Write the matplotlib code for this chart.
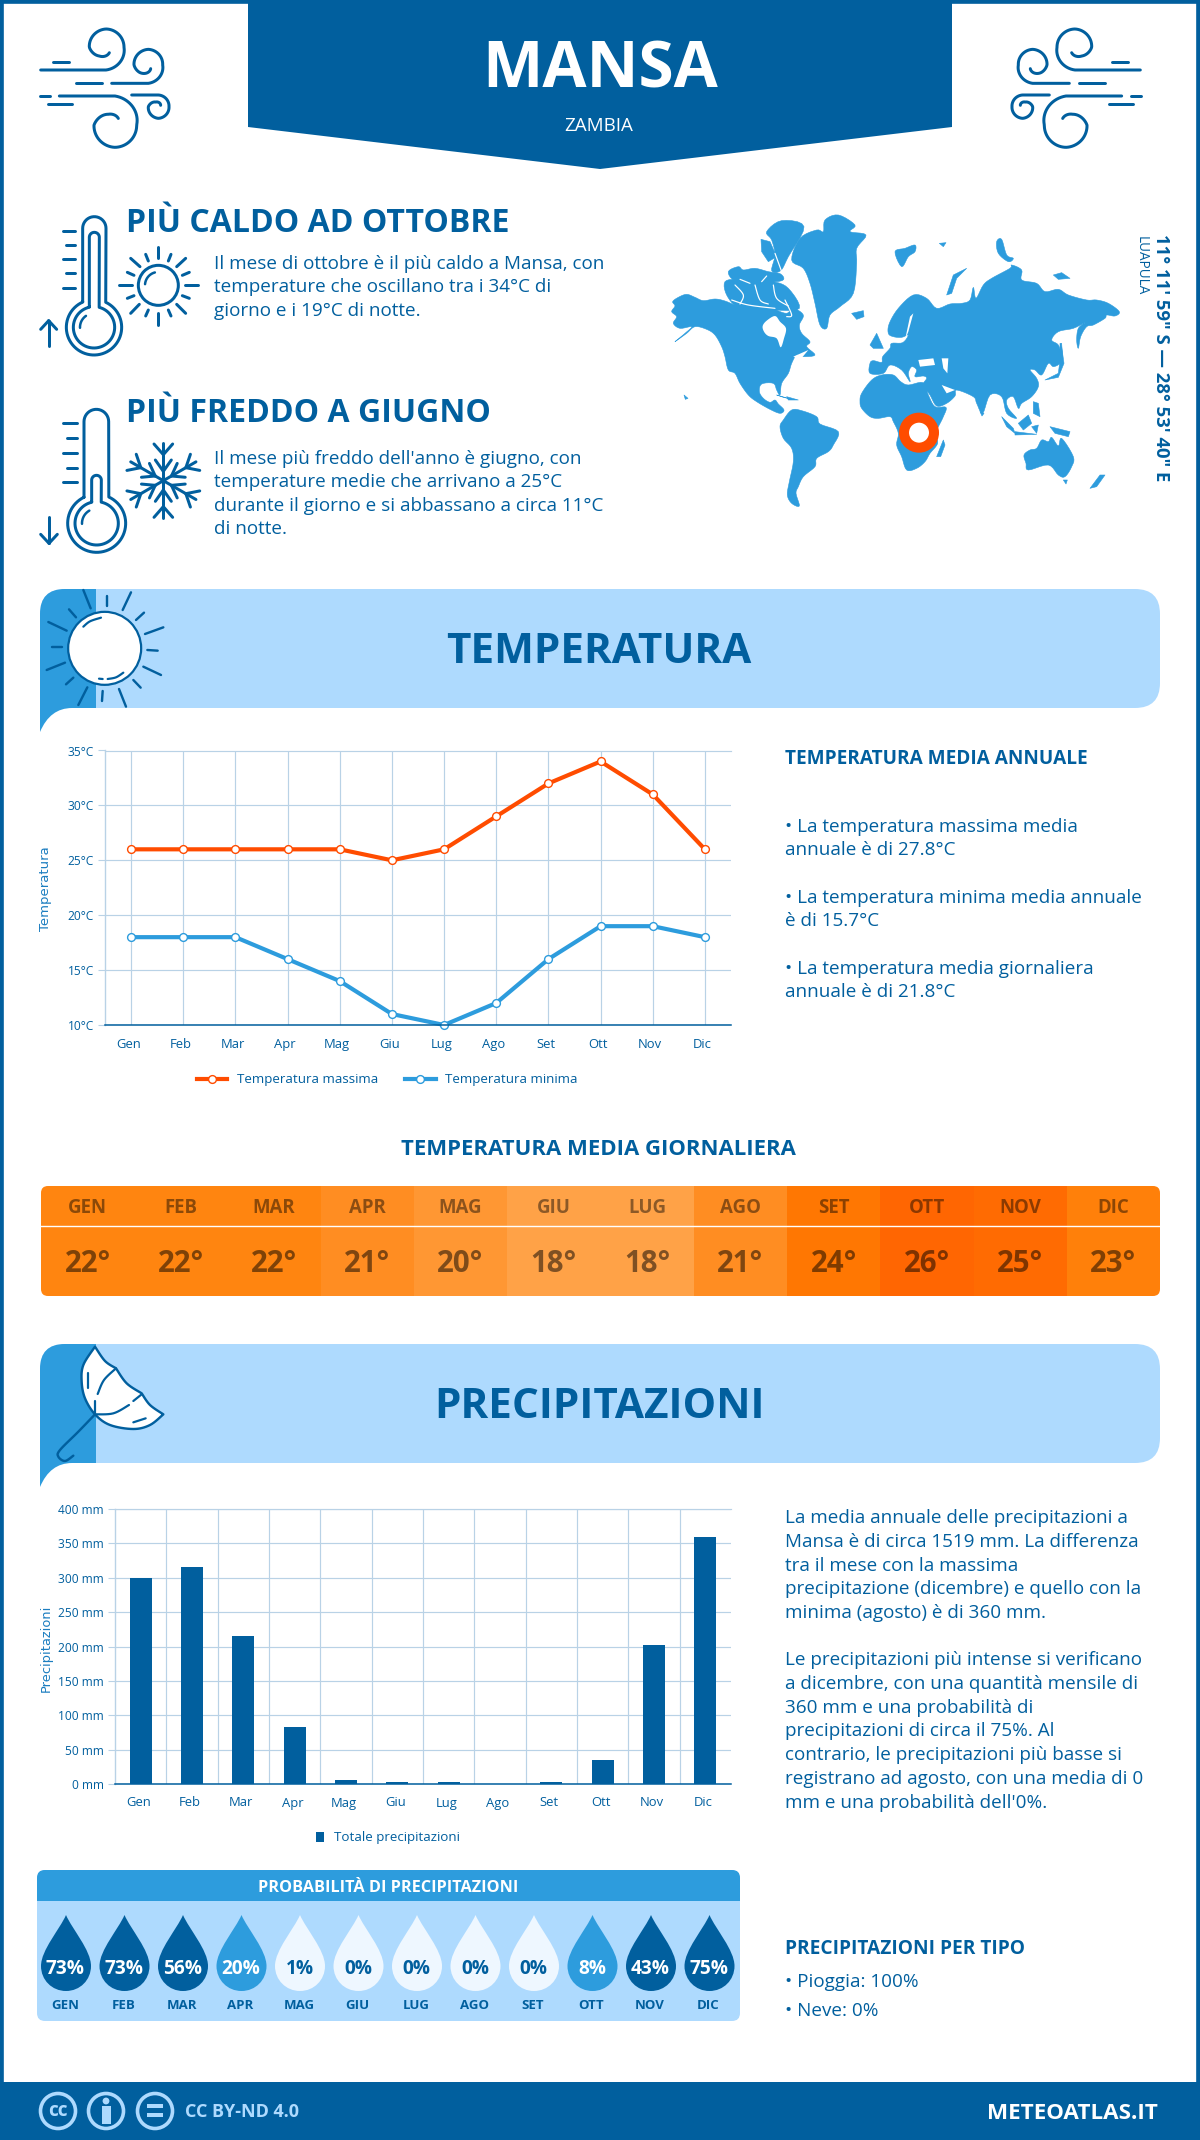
import numpy as np
import matplotlib
matplotlib.use("Agg")
import matplotlib.pyplot as plt
from matplotlib.path import Path
from matplotlib.patches import PathPatch, Rectangle, FancyBboxPatch, Polygon, Circle
from matplotlib.transforms import ScaledTranslation
from matplotlib.lines import Line2D

plt.rcParams['font.family'] = ['Open Sans', 'DejaVu Sans']

# ---------- data ----------
months = ['Gen', 'Feb', 'Mar', 'Apr', 'Mag', 'Giu', 'Lug', 'Ago', 'Set', 'Ott', 'Nov', 'Dic']
months_upper = ['GEN', 'FEB', 'MAR', 'APR', 'MAG', 'GIU', 'LUG', 'AGO', 'SET', 'OTT', 'NOV', 'DIC']
temp_max = [26, 26, 26, 26, 26, 25, 26, 29, 32, 34, 31, 26]
temp_min = [18, 18, 18, 16, 14, 11, 10, 12, 16, 19, 19, 18]
temp_mean = [22, 22, 22, 21, 20, 18, 18, 21, 24, 26, 25, 23]
temp_ticks = [10, 15, 20, 25, 30, 35]
rain_mm = [300, 316, 215, 83, 6, 3, 3, 0, 3, 35, 202, 360]
rain_ticks = [0, 50, 100, 150, 200, 250, 300, 350, 400]
rain_prob = [73, 73, 56, 20, 1, 0, 0, 0, 0, 8, 43, 75]

text_hot = ["Il mese di ottobre è il più caldo a Mansa, con",
            "temperature che oscillano tra i 34°C di",
            "giorno e i 19°C di notte."]
text_cold = ["Il mese più freddo dell'anno è giugno, con",
             "temperature medie che arrivano a 25°C",
             "durante il giorno e si abbassano a circa 11°C",
             "di notte."]
text_temp = [("• La temperatura massima media", 825), ("annuale è di 27.8°C", 848),
             ("• La temperatura minima media annuale", 896), ("è di 15.7°C", 919),
             ("• La temperatura media giornaliera", 967), ("annuale è di 21.8°C", 990)]
text_rain = [("La media annuale delle precipitazioni a", 1516),
             ("Mansa è di circa 1519 mm. La differenza", 1540),
             ("tra il mese con la massima", 1564),
             ("precipitazione (dicembre) e quello con la", 1587),
             ("minima (agosto) è di 360 mm.", 1611),
             ("Le precipitazioni più intense si verificano", 1658),
             ("a dicembre, con una quantità mensile di", 1682),
             ("360 mm e una probabilità di", 1706),
             ("precipitazioni di circa il 75%. Al", 1729),
             ("contrario, le precipitazioni più basse si", 1753),
             ("registrano ad agosto, con una media di 0", 1777),
             ("mm e una probabilità dell'0%.", 1801)]

# ---------- style ----------
DARK = '#015f9e'
MID = '#2d9cdd'
LIGHT = '#aedafe'
PALE = '#eef7ff'
RED = '#ff4c00'
GRID = '#b9d2e6'
BODY = 18.9
W, H = 1200, 2140

fig = plt.figure(figsize=(W / 100, H / 100), dpi=100, facecolor='white')
bg = fig.add_axes([0, 0, 1, 1], zorder=0)
bg.set_xlim(0, W)
bg.set_ylim(H, 0)
bg.axis('off')


def T(x, y, s, px, color=DARK, weight='normal', ha='left', ax=bg, **kw):
    """Text whose capitals are centred vertically on y; size in pixels."""
    return ax.text(x, y + 0.357 * px, s, fontsize=px * 0.72, color=color, fontweight=weight,
                   ha=ha, va='baseline', **kw)


def catmull(pts, closed=False, n=8):
    """Smooth curve through the given outline points."""
    p = np.array(pts, dtype=float)
    if closed:
        p = np.vstack([p[-1], p, p[0], p[1]])
    else:
        p = np.vstack([p[0], p, p[-1]])
    out = []
    for i in range(1, len(p) - 2):
        for t in np.linspace(0, 1, n, endpoint=False):
            a = 2 * p[i] + (p[i + 1] - p[i - 1]) * t
            b = (2 * p[i - 1] - 5 * p[i] + 4 * p[i + 1] - p[i + 2]) * t ** 2
            c = (-p[i - 1] + 3 * p[i] - 3 * p[i + 1] + p[i + 2]) * t ** 3
            out.append(0.5 * (a + b + c))
    out.append(p[-2])
    return np.array(out)


def draw(pts, lw=3.0, color=DARK, z=5):
    pts = np.asarray(pts)
    bg.add_line(Line2D(pts[:, 0], pts[:, 1], color=color, lw=lw * 0.72, solid_capstyle='round',
                       solid_joinstyle='round', zorder=z))


def seg(a, b, lw=3.0, color=DARK, z=5):
    draw([a, b], lw, color, z)


def rrect(x0, y0, x1, y1, r, **kw):
    p = FancyBboxPatch((x0 + r, y0 + r), x1 - x0 - 2 * r, y1 - y0 - 2 * r,
                       boxstyle=f"round,pad={r},rounding_size={r}", mutation_aspect=1, lw=0, **kw)
    bg.add_patch(p)
    return p


# ---------- frame, header, footer ----------
bg.add_patch(Rectangle((0, 0), W, H, fc='none', ec=DARK, lw=5.5, zorder=1))
bg.add_patch(Polygon([(248, 0), (952, 0), (952, 127), (600, 169), (248, 127)], fc=DARK, lw=0, zorder=2))
T(600, 65, 'MANSA', 64, 'white', 'bold', 'center', zorder=3)
T(599, 124, 'ZAMBIA', 18.8, 'white', 'normal', 'center', zorder=3)

bg.add_patch(Rectangle((0, 2082), W, 58, fc=DARK, lw=0, zorder=2))
for cx in [58, 106, 155]:
    bg.add_patch(Circle((cx, 2111), 17.5, fc='none', ec=LIGHT, lw=2.6, zorder=3))
T(58, 2109, 'cc', 19, LIGHT, 'bold', 'center', zorder=4)
bg.add_patch(Circle((106, 2101), 3.4, fc=LIGHT, lw=0, zorder=4))
bg.add_patch(Rectangle((101.5, 2106), 9, 18, fc=LIGHT, lw=0, zorder=4))
bg.add_patch(Rectangle((147, 2104), 16, 3.6, fc=LIGHT, lw=0, zorder=4))
bg.add_patch(Rectangle((147, 2113), 16, 3.6, fc=LIGHT, lw=0, zorder=4))
T(185, 2111, 'CC BY-ND 4.0', 18, LIGHT, 'bold', zorder=3)
T(1158, 2111, 'METEOATLAS.IT', 22.4, 'white', 'bold', 'right', zorder=3)


# ---------- wind icons ----------
def spiral(c, angles, radii, start=None):
    th = np.linspace(angles[0], angles[-1], 80)
    r = np.interp(th, angles, radii) if angles[0] < angles[-1] else np.interp(-th, [-a for a in angles], radii)
    t = np.radians(th)
    pts = np.column_stack([c[0] + r * np.cos(t), c[1] + r * np.sin(t)])
    if start is not None:
        pts = np.vstack([start, pts])
    return pts


def wind(mirror):
    def m(arr):
        arr = np.atleast_2d(np.asarray(arr, dtype=float))
        x = 20 + arr[:, 0] / 3
        y = 10 + arr[:, 1] / 3
        return np.column_stack([1181 - x if mirror else x, y])
    curves = [
        spiral((258, 112), [90, 0, -90, -180, -232, -302], [68, 54, 55, 50, 33, 19], (62, 180)),
        spiral((385, 165), [90, 0, -90, -180, -222, -303], [55, 43, 47, 43, 34, 13], (275, 220)),
        spiral((285, 345), [-90, 0, 90, 180, 238, 297], [87, 65, 67, 63, 38, 22], (118, 258)),
        spiral((415, 290), [-90, 0, 90, 180, 240, 330], [35, 32, 35, 30, 16, 8], (335, 255)),
    ]
    for c in curves:
        draw(m(c), 3.0)
    for a, b in [((98, 155), (148, 155)), ((168, 220), (245, 220)), ((60, 258), (90, 258)), ((85, 283), (155, 283))]:
        draw(m([a, b]), 3.0)


wind(False)
wind(True)


# ---------- thermometers ----------
def z5(p):
    return (20 + p[0] / 3, 200 + p[1] / 3)


def thermo(x0, x1, top, junc, c, R):
    cx = (x0 + x1) / 2
    r = (x1 - x0) / 2
    a = np.linspace(np.pi, 2 * np.pi, 20)
    cap = [(cx + r * np.cos(t), top + r + r * np.sin(t)) for t in a]
    a0 = np.arctan2(junc - c[1], x1 - c[0])
    a1 = np.arctan2(junc - c[1], x0 - c[0])
    if a1 < a0:
        a1 += 2 * np.pi
    b = np.linspace(a0, a1, 60)
    bulb = [(c[0] + R * np.cos(t), c[1] + R * np.sin(t)) for t in b]
    draw([z5(p) for p in [(x0, junc)] + cap + bulb + [(x0, junc)]], 3.0)


def arcline(c, R, a0, a1, lw=2.5, conv=z5):
    t = np.radians(np.linspace(a0, a1, 20))
    draw([conv((c[0] + R * np.cos(v), c[1] + R * np.sin(v))) for v in t], lw, z=6)


# hot
thermo(188, 258, 50, 305, (222, 382), 83)
thermo(208, 238, 97, 320, (222, 382), 62)
arcline((222, 382), 42, 178, 235)
for y, x0 in zip([93, 135, 178, 220, 263], [128, 138, 128, 138, 128]):
    seg(z5((x0, y)), z5((165, y)))
seg(z5((86, 438)), z5((86, 362)))
seg(z5((62, 388)), z5((86, 362)))
seg(z5((110, 388)), z5((86, 362)))
# sun next to hot thermometer
bg.add_patch(Circle(z5((415, 256)), 20, fc='none', ec=DARK, lw=3 * 0.72, zorder=5))
arcline((415, 256), 40, 185, 255)
for a, b in [((415, 140), (415, 175)), ((497, 175), (470, 200)), ((533, 256), (495, 256)), ((497, 340), (470, 313)),
             ((415, 375), (415, 338)), ((332, 340), (358, 313)), ((297, 256), (335, 256)), ((332, 175), (360, 200)),
             ((377, 163), (385, 183)), ((453, 163), (445, 183)), ((508, 217), (487, 226)), ((508, 295), (487, 287)),
             ((453, 348), (445, 330)), ((377, 348), (385, 330)), ((322, 295), (342, 287)), ((322, 217), (342, 226))]:
    seg(z5(a), z5(b))
# cold
thermo(192, 266, 628, 892, (230, 970), 87)
thermo(215, 244, 826, 905, (230, 970), 65)
arcline((230, 970), 44, 178, 240)
for y, x0 in zip([670, 715, 759, 803, 847], [130, 140, 130, 140, 130]):
    seg(z5((x0, y)), z5((170, y)))
seg(z5((87, 950)), z5((87, 1030)))
seg(z5((62, 1003)), z5((87, 1030)))
seg(z5((112, 1003)), z5((87, 1030)))
# snowflake
for k in range(6):
    th = np.radians(90 + 60 * k)
    d = np.array([np.cos(th), np.sin(th)])
    n = np.array([-d[1], d[0]])
    c = np.array([430.0, 842.0])
    seg(z5(c), z5(c + d * 113))
    for base, tip, off in [(78, 110, 28), (28, 62, 24)]:
        seg(z5(c + d * base), z5(c + d * tip + n * off))
        seg(z5(c + d * base), z5(c + d * tip - n * off))

T(126, 221, 'PIÙ CALDO AD OTTOBRE', 32, DARK, 'bold')
T(126, 411, 'PIÙ FREDDO A GIUGNO', 32, DARK, 'bold')
for s, y in zip(text_hot, [262, 285, 309]):
    T(214, y, s, BODY)
for s, y in zip(text_cold, [457, 480, 504, 527]):
    T(214, y, s, BODY)

# ---------- world map ----------
land = [
    # North America
    [(38, 305), (55, 292), (80, 283), (105, 292), (130, 302), (165, 297), (195, 303), (235, 318), (262, 312), (300, 320), (320, 312), (345, 328), (380, 340), (400, 325), (430, 345), (418, 375), (425, 400), (450, 425), (440, 440), (465, 465), (430, 470), (410, 465), (395, 490), (385, 520), (365, 550), (360, 585), (350, 570), (340, 550), (305, 552), (298, 575), (310, 595), (330, 607), (345, 600), (355, 612), (372, 630), (360, 640), (330, 628), (290, 605), (265, 585), (240, 550), (225, 520), (205, 510), (195, 470), (185, 440), (165, 405), (140, 388), (105, 380), (80, 400), (45, 425), (75, 400), (95, 380), (60, 385), (40, 370), (50, 350), (35, 335), (45, 318)],
    # Arctic Canada
    [(195, 245), (235, 238), (285, 245), (340, 245), (385, 265), (418, 325), (345, 330), (300, 322), (235, 322), (200, 285)],
    [(205, 215), (235, 200), (250, 210), (285, 205), (325, 215), (362, 222), (366, 242), (290, 248), (225, 242)],
    [(303, 118), (330, 125), (350, 170), (325, 185), (305, 155)],
    [(320, 95), (365, 62), (432, 80), (385, 170), (362, 212), (335, 212), (345, 165), (335, 120)],
    # Greenland, Iceland
    [(395, 180), (420, 115), (470, 90), (490, 95), (495, 60), (535, 45), (585, 75), (570, 95), (618, 105), (590, 145), (590, 190), (580, 280), (540, 320), (510, 345), (500, 385), (480, 375), (465, 310), (450, 250), (430, 205)],
    [(575, 340), (610, 332), (612, 350), (590, 358)],
    # Svalbard etc
    [(705, 155), (735, 145), (765, 135), (765, 155), (745, 170), (725, 200)], [(838, 130), (858, 128), (850, 140)],
    [(860, 285), (880, 225), (920, 205), (890, 235), (875, 280)], [(1010, 125), (1025, 118), (1040, 165), (1060, 175), (1045, 185), (1015, 160)],
    [(1180, 225), (1205, 218), (1230, 235), (1195, 238)],
    # Eurasia
    [(630, 490), (640, 482), (665, 487), (668, 470), (690, 445), (695, 430), (728, 428), (745, 405), (725, 412), (700, 410), (685, 400), (688, 370), (715, 325), (760, 285), (800, 295), (830, 325), (870, 312), (905, 310), (930, 300), (940, 262), (948, 295), (970, 255), (995, 235), (1050, 205), (1055, 195), (1085, 210), (1085, 240), (1130, 250), (1155, 275), (1195, 268), (1225, 285), (1280, 300), (1310, 300), (1345, 310), (1378, 335), (1365, 348), (1340, 345), (1335, 355), (1300, 375), (1280, 380), (1262, 410), (1255, 445), (1250, 420), (1255, 385), (1275, 368), (1240, 385), (1195, 395), (1175, 420), (1195, 435), (1205, 470), (1200, 490), (1180, 500), (1165, 490), (1145, 525), (1125, 510), (1110, 510), (1130, 535), (1135, 560), (1115, 590), (1085, 610), (1075, 625), (1060, 590), (1040, 600), (1045, 625), (1070, 655), (1040, 640), (1025, 590), (990, 585), (968, 640), (950, 610), (940, 590), (890, 570), (885, 588), (860, 610), (830, 618), (810, 585), (790, 555), (800, 535), (790, 528), (765, 530), (770, 510), (755, 500), (745, 520), (750, 545), (725, 510), (690, 495), (670, 520), (630, 520)],
    # UK, islands
    [(630, 435), (650, 400), (670, 445), (640, 445)],
    [(1155, 540), (1195, 520), (1205, 440), (1212, 490), (1195, 532)], [(1200, 430), (1205, 430), (1208, 480), (1200, 480)],
    [(72, 585), (84, 595), (76, 598)], [(960, 635), (972, 640), (966, 648)],
    [(380, 590), (415, 600), (385, 600)],
    # Africa, Madagascar
    [(600, 605), (605, 580), (635, 540), (665, 525), (700, 525), (722, 545), (745, 555), (790, 548), (805, 585), (825, 620), (858, 622), (850, 650), (835, 680), (825, 700), (833, 730), (810, 760), (795, 785), (770, 805), (740, 810), (725, 770), (710, 735), (715, 700), (700, 665), (690, 650), (655, 655), (630, 650), (605, 625)],
    [(830, 770), (850, 720), (855, 735), (842, 770)],
    # South America, Cuba
    [(360, 680), (370, 660), (395, 630), (425, 632), (470, 650), (480, 672), (535, 695), (520, 735), (505, 755), (470, 775), (465, 800), (430, 830), (415, 860), (408, 880), (418, 918), (395, 910), (382, 885), (388, 845), (400, 785), (395, 745), (370, 715)],
    [(350, 585), (395, 598), (370, 592)],
    # Oceania and SE Asia
    [(1092, 765), (1110, 750), (1130, 745), (1145, 720), (1165, 725), (1175, 712), (1195, 738), (1205, 715), (1240, 770), (1235, 800), (1215, 830), (1195, 825), (1165, 795), (1105, 810), (1098, 790)],
    [(1290, 865), (1320, 825), (1335, 825), (1310, 860)], [(1210, 840), (1222, 840), (1218, 852)],
    [(1025, 650), (1060, 685), (1065, 700), (1040, 680)], [(1065, 695), (1130, 703), (1065, 705)],
    [(1075, 670), (1105, 645), (1115, 670), (1090, 690)], [(1115, 680), (1135, 675), (1130, 700)],
    [(1170, 680), (1230, 695), (1225, 710), (1185, 700)], [(1120, 605), (1135, 610), (1140, 650), (1120, 640)],
]
seas = [
    [(308, 378), (320, 362), (345, 348), (360, 365), (378, 385), (372, 415), (362, 442), (350, 415), (325, 408), (312, 395)],
    [(735, 420), (750, 350), (760, 340), (745, 395)],
    [(845, 475), (865, 475), (862, 520), (850, 505)],
    [(775, 480), (820, 475), (825, 495), (780, 500)],
    [(845, 555), (885, 570), (860, 580)],
    [(400, 470), (445, 450), (420, 480)],
]
channels = [
    [(225, 255), (250, 285), (240, 312)], [(285, 255), (300, 300), (325, 312)], [(340, 255), (350, 295), (385, 318)],
    [(215, 300), (265, 315), (345, 325)], [(240, 238), (270, 250)], [(320, 228), (305, 245)],
    [(375, 300), (395, 345), (380, 350)], [(345, 160), (365, 215)],
]


def z4(p):
    return (660 + p[0] / 3, 200 + p[1] / 3)


for poly in land:
    pts = catmull(poly, closed=True, n=5) if len(poly) >= 6 else np.array(poly)
    bg.add_patch(Polygon([z4(p) for p in pts], fc=MID, ec=MID, lw=0.4, joinstyle='round', zorder=3))
for poly in seas:
    pts = catmull(poly, closed=True, n=5) if len(poly) >= 5 else np.array(poly)
    bg.add_patch(Polygon([z4(p) for p in pts], fc='white', lw=0, zorder=4))
for ch in channels:
    draw([z4(p) for p in catmull(ch)], 1.2, 'white', 4)
bg.add_patch(Circle(z4((777, 698)), 15, fc='white', ec=RED, lw=10 * 0.72, zorder=5))
bg.text(1161, 234, "11° 11' 59\" S — 28° 53' 40\" E", fontsize=18.5 * 0.72, fontweight='bold', color=DARK, rotation=-90,
        ha='center', va='top')
bg.text(1141, 236, 'LUAPULA', fontsize=13.5 * 0.72, color=DARK, rotation=-90, ha='center', va='top')


# ---------- section banners ----------
def banner(y0, title, tx):
    y1 = y0 + 119
    rrect(40, y0, 1160, y1, 25, fc=LIGHT, zorder=1)
    v = [(40, y1 + 24), (40, y0 + 25), (40, y0), (65, y0), (96, y0), (96, y1), (72, y1), (50, y1), (40, y1 + 24)]
    c = [Path.MOVETO, Path.LINETO, Path.CURVE3, Path.CURVE3, Path.LINETO, Path.LINETO, Path.LINETO, Path.CURVE3, Path.CURVE3]
    bg.add_patch(PathPatch(Path(v, c), fc=MID, lw=0, zorder=2))
    T(tx, y0 + 59, title, 42.2, DARK, 'bold', 'center', zorder=3)


banner(589, 'TEMPERATURA', 599)
banner(1344, 'PRECIPITAZIONI', 600)


def z7(p):
    return (30 + p[0] / 3, 580 + p[1] / 3)


def z8(p):
    return (30 + p[0] / 3, 1335 + p[1] / 3)


bg.add_patch(Circle(z7((224, 205)), 36.5, fc='white', ec=DARK, lw=1.6, zorder=4))
for a, b in [((160, 30), (182, 85)), ((230, 47), (230, 78)), ((303, 37), (278, 90)), ((342, 98), (318, 120)),
             ((400, 142), (345, 162)), ((352, 210), (383, 212)), ((340, 260), (393, 285)), ((310, 300), (332, 323)),
             ((267, 327), (288, 380)), ((218, 333), (216, 363)), ((172, 322), (145, 375)), ((130, 293), (108, 313)),
             ((105, 248), (50, 270)), ((97, 200), (67, 200)), ((110, 152), (55, 126)), ((138, 112), (117, 88))]:
    seg(z7(a), z7(b), 2.4)
draw([z7(p) for p in catmull([(160, 140), (180, 124), (213, 113)])], 2.2, z=6)
draw([z7(p) for p in catmull([(233, 297), (258, 292), (280, 278)])], 2.2, z=6)
seg(z7((207, 296)), z7((218, 297)), 2.2, z=6)

outer = catmull([(195, 35), (160, 90), (155, 140), (165, 190), (195, 238), (240, 270), (310, 282), (360, 270), (400, 238)])
scallops = np.vstack([catmull([(400, 238), (360, 210), (335, 175)]),
                      catmull([(335, 175), (290, 145), (258, 100)]),
                      catmull([(258, 100), (225, 78), (195, 35)])])
canopy = np.vstack([outer, scallops])
bg.add_patch(Polygon([z8(p) for p in canopy], fc='white', ec=DARK, lw=2.4 * 0.72, joinstyle='round', zorder=4))
draw([z8(p) for p in [(195, 238), (195, 198)]], 2.2)
draw([z8(p) for p in catmull([(203, 177), (222, 135), (258, 100)])], 2.2)
draw([z8(p) for p in catmull([(195, 238), (250, 235), (297, 210)])], 2.2)
seg(z8((310, 198)), z8((335, 178)), 2.2)
seg(z8((173, 113)), z8((173, 158)), 2.2)
seg(z8((310, 262)), z8((347, 250)), 2.2)
draw([z8(p) for p in catmull([(195, 238), (145, 290), (90, 345), (85, 365), (105, 378), (130, 362)])], 2.4)


# ---------- temperature chart ----------
def style_axes(ax):
    ax.set_facecolor('none')
    ax.spines['right'].set_visible(False)
    ax.spines['top'].set_color(GRID)
    ax.spines['top'].set_linewidth(0.85)
    ax.spines['left'].set_color(GRID)
    ax.spines['left'].set_linewidth(1.0)
    ax.spines['bottom'].set_color(DARK)
    ax.spines['bottom'].set_linewidth(1.1)
    ax.set_axisbelow(True)


def px_axes(x0, y0, x1, y1):
    return fig.add_axes([x0 / W, 1 - y1 / H, (x1 - x0) / W, (y1 - y0) / H], zorder=2)


ax1 = px_axes(105, 750.5, 731, 1025)
style_axes(ax1)
xs = np.arange(12)
l1, = ax1.plot(xs, temp_max, color=RED, lw=3.0, marker='o', ms=5.6, mfc='white', mec=RED, mew=1.0,
               label='Temperatura massima', clip_on=False)
l2, = ax1.plot(xs, temp_min, color=MID, lw=3.0, marker='o', ms=5.6, mfc='white', mec=MID, mew=1.0,
               label='Temperatura minima', clip_on=False)
ax1.set_xlim(-0.5, 11.5)
ax1.set_ylim(10, 35)
ax1.set_xticks(xs)
ax1.set_xticklabels(months, fontsize=13 * 0.72, color=DARK)
ax1.set_yticks(temp_ticks)
ax1.set_yticklabels([f'{v}°C' for v in temp_ticks], fontsize=12 * 0.72, color=DARK)
ax1.grid(True, color=GRID, lw=0.85)
ax1.tick_params(axis='x', length=0, pad=9)
ax1.tick_params(axis='y', length=5, color=GRID, pad=3, width=0.8)
off = ScaledTranslation(-2.5 / 100, 0, fig.dpi_scale_trans)
for lab in ax1.get_xticklabels():
    lab.set_transform(lab.get_transform() + off)
bg.text(46, 889, 'Temperatura', rotation=90, family='DejaVu Sans', fontsize=13.2 * 0.72, color='#1b7dc0', ha='center', va='center')
ax1.legend(handles=[l1, l2], loc='center', bbox_to_anchor=(387, 1080), bbox_transform=bg.transData, ncol=2, frameon=False,
           fontsize=13.4 * 0.72, labelcolor=DARK, handlelength=2.3, handletextpad=0.7, columnspacing=2.0, numpoints=1)

T(785, 757, 'TEMPERATURA MEDIA ANNUALE', 19, DARK, 'bold')
for s, y in text_temp:
    T(785, y, s, BODY)
T(598, 1147, 'TEMPERATURA MEDIA GIORNALIERA', 22.2, DARK, 'bold', 'center')

# ---------- daily mean strip ----------
cell_colors = {18: '#ffa247', 20: '#ff9733', 21: '#ff8d22', 22: '#ff8510', 23: '#ff800a', 24: '#ff7702', 25: '#ff6b02', 26: '#ff6602'}
sx0, sx1, sy0, sy1, sy2 = 41, 1160, 1186, 1226, 1296
clip = rrect(sx0, sy0, sx1, sy2, 7, fc='none', zorder=1)
cw = (sx1 - sx0) / 12
for i, (m, v) in enumerate(zip(months_upper, temp_mean)):
    r1 = Rectangle((sx0 + i * cw, sy0), cw + 0.5, sy2 - sy0, fc=cell_colors[v], lw=0, zorder=2)
    bg.add_patch(r1)
    r1.set_clip_path(clip)
    T(sx0 + (i + 0.5) * cw, 1206, m, 18.6, 'black', 'bold', 'center', alpha=0.45, zorder=3)
    T(sx0 + (i + 0.5) * cw, 1261, f'{v}°', 29.5, 'black', 'bold', 'center', alpha=0.5, zorder=3)
bg.add_line(Line2D([sx0, sx1], [sy1, sy1], color='white', lw=1.0, zorder=3))

# ---------- rain chart ----------
ax2 = px_axes(115, 1509, 731, 1784)
style_axes(ax2)
ax2.bar(xs, rain_mm, width=22 / 51.33, color=DARK, label='Totale precipitazioni', zorder=3)
ax2.set_xlim(-0.5, 11.5)
ax2.set_ylim(0, 400)
ax2.set_xticks(xs)
ax2.set_xticklabels(months, fontsize=13 * 0.72, color=DARK)
ax2.set_xticks(np.arange(0.5, 11.5, 1), minor=True)
ax2.set_yticks(rain_ticks)
ax2.set_yticklabels([f'{v} mm' for v in rain_ticks], fontsize=12 * 0.72, color=DARK)
ax2.grid(True, axis='y', color=GRID, lw=0.85)
ax2.grid(True, axis='x', which='minor', color=GRID, lw=0.85)
ax2.tick_params(axis='x', which='both', length=0, pad=9)
ax2.tick_params(axis='y', length=5, color=GRID, pad=3, width=0.8)
off2 = ScaledTranslation(-2 / 100, 0, fig.dpi_scale_trans)
for lab in ax2.get_xticklabels():
    lab.set_transform(lab.get_transform() + off2)
bg.text(46, 1648, 'Precipitazioni', rotation=90, family='DejaVu Sans', fontsize=13 * 0.72, color='#1b7dc0', ha='center', va='center')
ax2.legend(loc='center', bbox_to_anchor=(388, 1838), bbox_transform=bg.transData, frameon=False, fontsize=13.4 * 0.72,
           labelcolor=DARK, handlelength=0.6, handleheight=0.8, handletextpad=0.7)
for s, y in text_rain:
    T(785, y, s, BODY)

# ---------- rain probability ----------
rrect(37, 1870, 740, 2021, 8, fc=LIGHT, zorder=1)
rrect(37, 1870, 740, 1920, 8, fc=MID, zorder=2)
bg.add_patch(Rectangle((37, 1901), 703, 20, fc=LIGHT, lw=0, zorder=2))
T(388, 1886, 'PROBABILITÀ DI PRECIPITAZIONI', 16.3, 'white', 'bold', 'center', zorder=3)


def drop_path(cx):
    t, c, r = 1915, 1966, 25
    v = [(cx, t), (cx + 6, t + 14), (cx + r, c - 16), (cx + r, c), (cx + r, c + 14), (cx + 14, c + r), (cx, c + r),
         (cx - 14, c + r), (cx - r, c + 14), (cx - r, c), (cx - r, c - 16), (cx - 6, t + 14), (cx, t)]
    return Path(v, [Path.MOVETO] + [Path.CURVE4] * 12)


for i, (m, p) in enumerate(zip(months_upper, rain_prob)):
    cx = 66 + i * 58.5
    fc = DARK if p >= 40 else MID if p >= 5 else PALE
    bg.add_patch(PathPatch(drop_path(cx), fc=fc, lw=0, zorder=3))
    T(cx - 0.5, 1967, f'{p}%', 19, 'white' if p >= 5 else DARK, 'bold', 'center', zorder=4)
    T(cx - 1, 2004, m, 13.2, DARK, 'bold', 'center', zorder=4)

T(785, 1947, 'PRECIPITAZIONI PER TIPO', 19.1, DARK, 'bold')
T(785, 1980, '• Pioggia: 100%', BODY)
T(785, 2009, '• Neve: 0%', BODY)

fig.savefig('out.png', dpi=100, facecolor='white')
